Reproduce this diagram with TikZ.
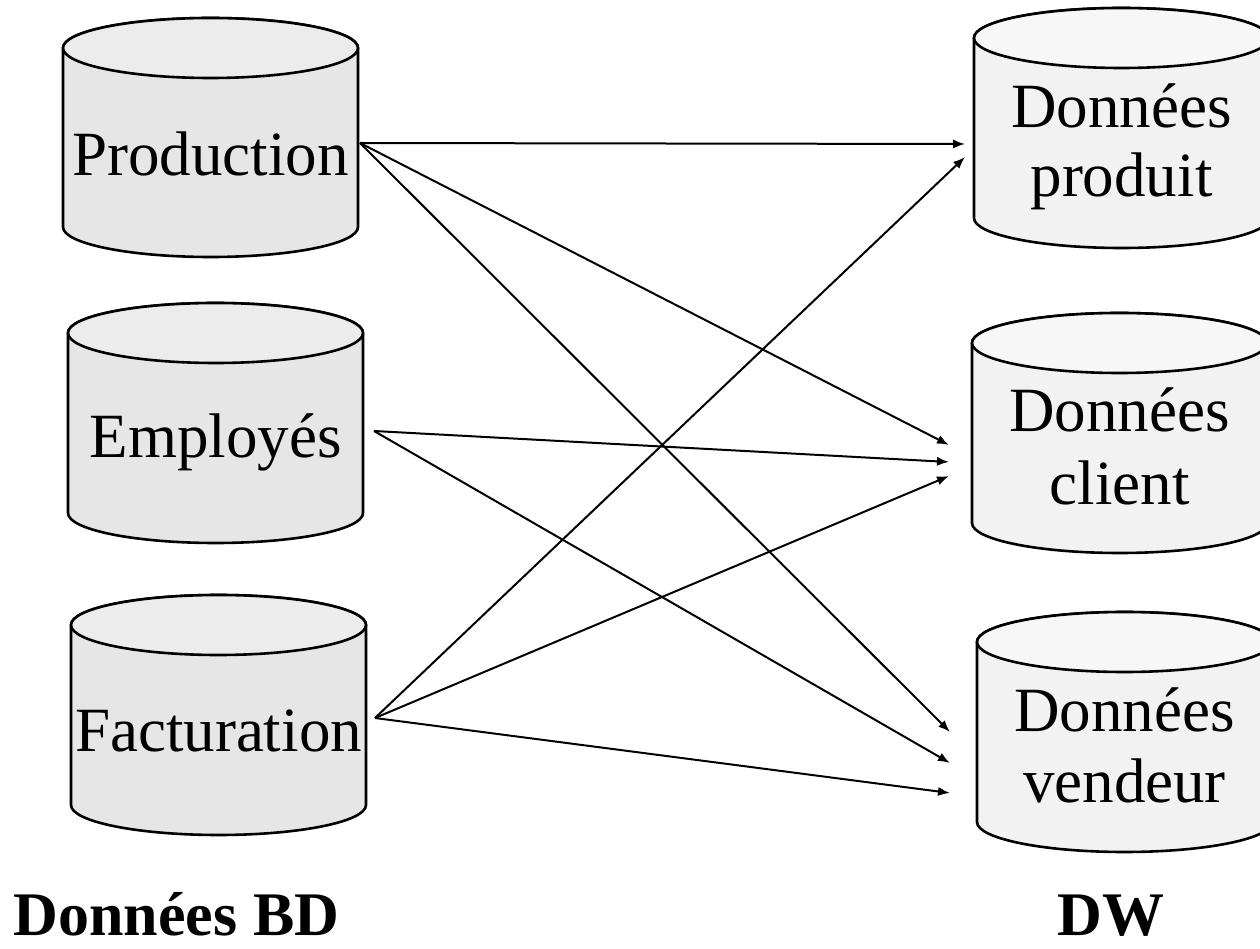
\documentclass[tikz,border=0pt]{standalone}
\usepackage{fontspec}
\setmainfont{Liberation Serif}
\usetikzlibrary{arrows.meta}
\definecolor{srcbody}{HTML}{E6E6E6}
\definecolor{srctop}{HTML}{ECECEC}
\definecolor{dstbody}{HTML}{F2F2F2}
\definecolor{dsttop}{HTML}{F7F7F7}
% #1 left x (px), #2 top y (px, from top), #3 bottom y (px), #4 body colour, #5 top colour
\newcommand\dbcyl[5]{%
  \pgfmathsetmacro\cxl{#1}%
  \pgfmathsetmacro\cxr{#1+295}%
  \pgfmathsetmacro\ccx{#1+147.5}%
  \pgfmathsetmacro\cyt{949-#2-30}%
  \pgfmathsetmacro\cyb{949-#3+30}%
  \filldraw[cylline,fill=#4] (\cxl,\cyt) -- (\cxl,\cyb)
     arc[start angle=180,end angle=360,x radius=73.75pt,y radius=15pt]
     -- (\cxr,\cyt)
     arc[start angle=0,end angle=180,x radius=73.75pt,y radius=15pt] -- cycle;
  \filldraw[cylline,fill=#5] (\ccx,\cyt) ellipse [x radius=73.75pt,y radius=15pt];
}
\begin{document}
\begin{tikzpicture}[x=0.5pt,y=0.5pt,
  cylline/.style={line width=1.3pt,draw=black,line join=round},
  lbl/.style={font=\fontsize{31.5}{36}\selectfont,inner sep=0pt,anchor=base},
  captionlbl/.style={font=\fontsize{31}{36}\selectfont\bfseries,inner sep=0pt,anchor=base},
  flow/.style={line width=1pt,-{Latex[length=6pt,width=4.6pt]}}]
\useasboundingbox (0,0) rectangle (1260,949);
\clip (0,0) rectangle (1260,949);
\fill[white] (0,0) rectangle (1260,949);

% source databases
\dbcyl{63}{18}{257}{srcbody}{srctop}
\dbcyl{68}{303}{543}{srcbody}{srctop}
\dbcyl{71}{595}{835}{srcbody}{srctop}
% warehouse databases
\dbcyl{974}{8}{248}{dstbody}{dsttop}
\dbcyl{972}{313}{553}{dstbody}{dsttop}
\dbcyl{977}{612}{852}{dstbody}{dsttop}

\node[lbl] (prod) at (210.5,{949-176}) {Production};
\node[lbl] (empl) at (215.5,{949-458}) {Employés};
\node[lbl] (fact) at (218.5,{949-752}) {Facturation};

\node[lbl] (dp1) at (1121.5,{949-128}) {Données};
\node[lbl] (dp2) at (1121.5,{949-197}) {produit};
\node[lbl] (dc1) at (1119.5,{949-432}) {Données};
\node[lbl] (dc2) at (1119.5,{949-505}) {client};
\node[lbl] (dv1) at (1124.5,{949-732}) {Données};
\node[lbl] (dv2) at (1124.5,{949-803}) {vendeur};

\node[captionlbl] (bd) at (176.5,{949-936}) {Données BD};
\node[captionlbl] (dw) at (1111,{949-936}) {DW};

% connector end points
\coordinate (pOut) at (360,{949-143});
\coordinate (eOut) at (374,{949-431});
\coordinate (fOut) at (375,{949-718});
\coordinate (dpA) at (965,{949-144});
\coordinate (dpB) at (965,{949-157});
\coordinate (dcA) at (949,{949-445});
\coordinate (dcB) at (949,{949-462});
\coordinate (dcC) at (949,{949-476});
\coordinate (dvA) at (950,{949-732});
\coordinate (dvB) at (950,{949-763});
\coordinate (dvC) at (950,{949-793});

\draw[flow] (pOut) -- (dpA);
\draw[flow] (pOut) -- (dcA);
\draw[flow] (pOut) -- (dvA);
\draw[flow] (eOut) -- (dcB);
\draw[flow] (eOut) -- (dvB);
\draw[flow] (fOut) -- (dpB);
\draw[flow] (fOut) -- (dcC);
\draw[flow] (fOut) -- (dvC);
\end{tikzpicture}
\end{document}
